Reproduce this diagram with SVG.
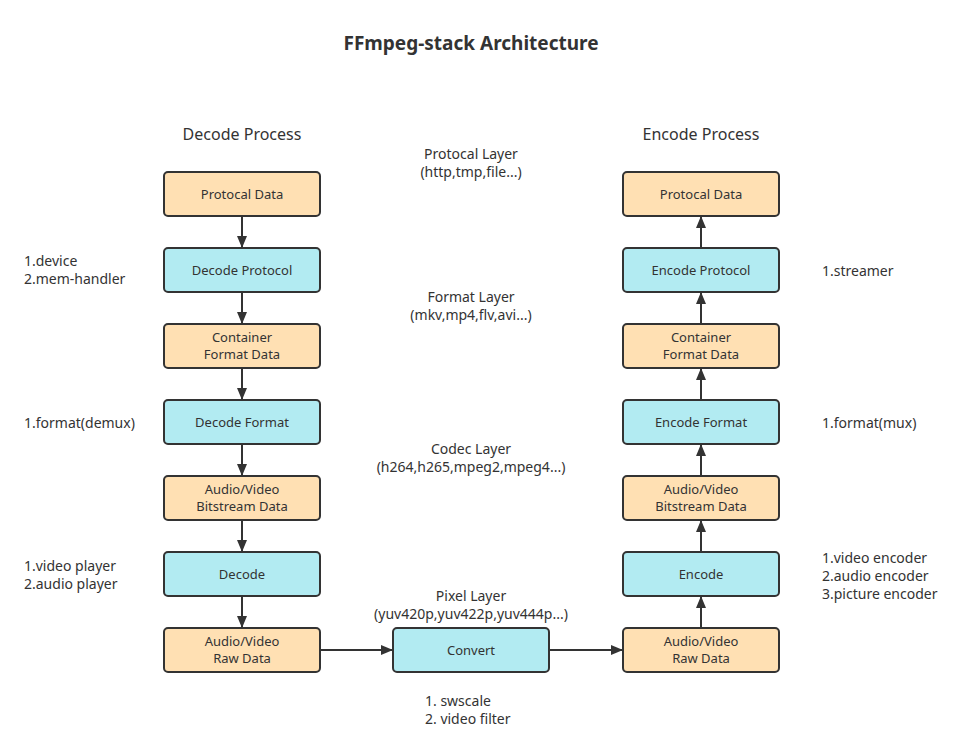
<svg xmlns="http://www.w3.org/2000/svg" width="976" height="756" viewBox="0 0 976 756">
<defs>
<marker id="ah" viewBox="0 0 12 10" refX="11" refY="5" markerWidth="12" markerHeight="10" markerUnits="userSpaceOnUse" orient="auto">
<path d="M0,0 L12,5 L0,10 z" fill="#333"/>
</marker>
<style>
text{font-family:"Noto Sans","Open Sans",sans-serif;fill:#333;}
.o{fill:#FFE0B3;stroke:#333;stroke-width:2;}
.c{fill:#B2EBF2;stroke:#333;stroke-width:2;}
.n{font-size:13px;text-anchor:middle;}
.l{font-size:14px;}
.m{font-size:14px;text-anchor:middle;}
.h{font-size:16px;text-anchor:middle;}
.e{stroke:#333;stroke-width:2;fill:none;marker-end:url(#ah);}
</style>
</defs>
<rect width="976" height="756" fill="#fff"/>
<text x="471" y="50" font-size="19" font-weight="bold" text-anchor="middle">FFmpeg-stack Architecture</text>
<text class="h" x="242" y="140">Decode Process</text>
<text class="h" x="701" y="140">Encode Process</text>
<text class="m" x="471" y="159">Protocal Layer</text>
<text class="m" x="471" y="177">(http,tmp,file...)</text>
<text class="m" x="471" y="302">Format Layer</text>
<text class="m" x="471" y="320">(mkv,mp4,flv,avi...)</text>
<text class="m" x="471" y="454">Codec Layer</text>
<text class="m" x="471" y="472">(h264,h265,mpeg2,mpeg4...)</text>
<text class="m" x="471" y="601">Pixel Layer</text>
<text class="m" x="471" y="619">(yuv420p,yuv422p,yuv444p...)</text>
<text class="l" x="425" y="706">1. swscale</text>
<text class="l" x="425" y="724">2. video filter</text>
<text class="l" x="24" y="266">1.device</text>
<text class="l" x="24" y="284">2.mem-handler</text>
<text class="l" x="24" y="428">1.format(demux)</text>
<text class="l" x="24" y="571">1.video player</text>
<text class="l" x="24" y="589">2.audio player</text>
<text class="l" x="822" y="276">1.streamer</text>
<text class="l" x="822" y="428">1.format(mux)</text>
<text class="l" x="822" y="563">1.video encoder</text>
<text class="l" x="822" y="581">2.audio encoder</text>
<text class="l" x="822" y="599">3.picture encoder</text>
<g id="d1"><rect class="o" x="164" y="172" width="156" height="44" rx="4"/><text class="n" x="242" y="199">Protocal Data</text></g>
<g id="d2"><rect class="c" x="164" y="248" width="156" height="44" rx="4"/><text class="n" x="242" y="275">Decode Protocol</text></g>
<g id="d3"><rect class="o" x="164" y="324" width="156" height="44" rx="4"/><text class="n" x="242" y="342">Container</text><text class="n" x="242" y="359">Format Data</text></g>
<g id="d4"><rect class="c" x="164" y="400" width="156" height="44" rx="4"/><text class="n" x="242" y="427">Decode Format</text></g>
<g id="d5"><rect class="o" x="164" y="476" width="156" height="44" rx="4"/><text class="n" x="242" y="494">Audio/Video</text><text class="n" x="242" y="511">Bitstream Data</text></g>
<g id="d6"><rect class="c" x="164" y="552" width="156" height="44" rx="4"/><text class="n" x="242" y="579">Decode</text></g>
<g id="d7"><rect class="o" x="164" y="628" width="156" height="44" rx="4"/><text class="n" x="242" y="646">Audio/Video</text><text class="n" x="242" y="663">Raw Data</text></g>
<g id="cv"><rect class="c" x="393" y="628" width="156" height="44" rx="4"/><text class="n" x="471" y="655">Convert</text></g>
<g id="e1"><rect class="o" x="623" y="172" width="156" height="44" rx="4"/><text class="n" x="701" y="199">Protocal Data</text></g>
<g id="e2"><rect class="c" x="623" y="248" width="156" height="44" rx="4"/><text class="n" x="701" y="275">Encode Protocol</text></g>
<g id="e3"><rect class="o" x="623" y="324" width="156" height="44" rx="4"/><text class="n" x="701" y="342">Container</text><text class="n" x="701" y="359">Format Data</text></g>
<g id="e4"><rect class="c" x="623" y="400" width="156" height="44" rx="4"/><text class="n" x="701" y="427">Encode Format</text></g>
<g id="e5"><rect class="o" x="623" y="476" width="156" height="44" rx="4"/><text class="n" x="701" y="494">Audio/Video</text><text class="n" x="701" y="511">Bitstream Data</text></g>
<g id="e6"><rect class="c" x="623" y="552" width="156" height="44" rx="4"/><text class="n" x="701" y="579">Encode</text></g>
<g id="e7"><rect class="o" x="623" y="628" width="156" height="44" rx="4"/><text class="n" x="701" y="646">Audio/Video</text><text class="n" x="701" y="663">Raw Data</text></g>
<g id="connectors">
<path class="e" d="M242,217 V247"/>
<path class="e" d="M242,293 V323"/>
<path class="e" d="M242,369 V399"/>
<path class="e" d="M242,445 V475"/>
<path class="e" d="M242,521 V551"/>
<path class="e" d="M242,597 V627"/>
<path class="e" d="M321,650 H392"/>
<path class="e" d="M550,650 H622"/>
<path class="e" d="M701,627 V597"/>
<path class="e" d="M701,551 V521"/>
<path class="e" d="M701,475 V445"/>
<path class="e" d="M701,399 V369"/>
<path class="e" d="M701,323 V293"/>
<path class="e" d="M701,247 V217"/>
</g>
</svg>
